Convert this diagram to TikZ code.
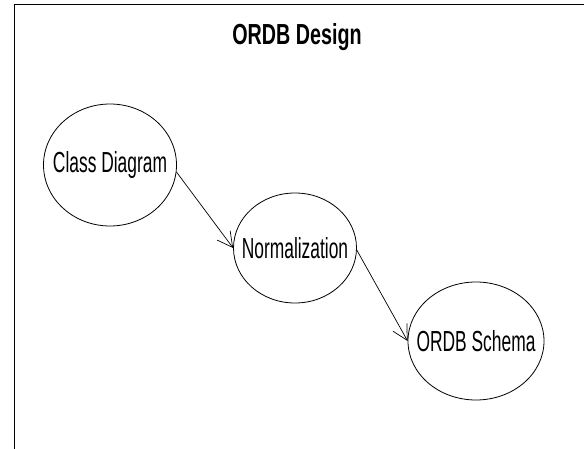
\documentclass[tikz,border=0pt]{standalone}
\usepackage{fontspec}
\setmainfont{Liberation Sans}[FakeStretch=0.6]
\newfontfamily\titlefont{Liberation Sans}[FakeStretch=0.68]
\usetikzlibrary{shapes.geometric,arrows.meta}
% the label is set in a zero-width box so the ellipse keeps its given size
\newcommand{\stagelabel}[1]{\makebox[0pt]{#1}}
\tikzset{
  stage/.style={ellipse, draw, line width=0.8pt, inner sep=0pt, font=\fontsize{29}{33}\selectfont},
  flow/.style={draw, line width=0.7pt, -{Straight Barb[length=15pt,width=16pt,line width=0.7pt]}}
}
\begin{document}
\begin{tikzpicture}[x=1pt,y=1pt]
  \useasboundingbox (0,0) rectangle (584,448);
  \fill[white] (0,0) rectangle (584,448);
  % outer frame
  \draw[line width=1.2pt] (14.5,-10) -- (14.5,443.5) -- (600,443.5);
  % title
  \node[anchor=base, inner sep=0pt] (title) at (297,403) {\titlefont\bfseries\fontsize{29}{33}\selectfont ORDB Design};
  % stages
  \node[stage, minimum width=133pt, minimum height=122pt] (cd) at (110,283) {\stagelabel{Class Diagram}};
  \node[stage, minimum width=123pt, minimum height=110pt] (norm) at (295,200) {\stagelabel{Normalization}};
  \node[stage, minimum width=136pt, minimum height=118pt] (schema) at (476,107) {\stagelabel{ORDB Schema}};
  % connectors
  \draw[flow] (cd.-6) -- (norm.west);
  \draw[flow] (norm.-2) -- (schema.west);
\end{tikzpicture}
\end{document}
